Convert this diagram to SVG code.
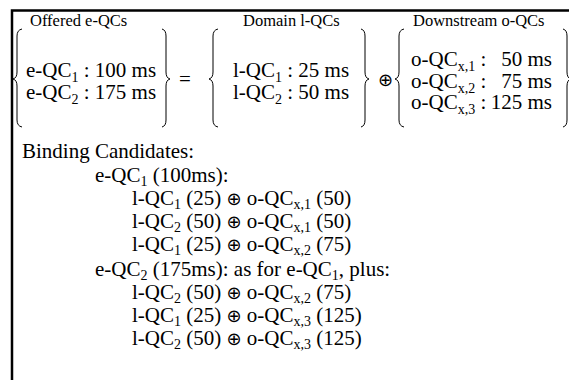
<svg xmlns="http://www.w3.org/2000/svg" width="569" height="380" viewBox="0 0 569 380">
<style>
text{font-family:"Liberation Serif","DejaVu Serif","DejaVu Sans",serif;fill:#000}
.big{font-size:21px}
.lab{font-size:16.5px}
.op{font-family:"DejaVu Sans",sans-serif;font-size:18px}
.br{fill:none;stroke:#000;stroke-width:1}
.frame{fill:none;stroke:#000;stroke-width:2.5}
</style>
<rect width="569" height="380" fill="#fff"/>
<path class="frame" d="M12,380 V10.5 H569"/>
<g id="offered">
<text class="lab" x="30" y="26">Offered e-QCs</text>
<path class="br" d="M22,29 Q17,30 17,36 V72 Q17,78 13,79 Q17,80 17,86 V120 Q17,126 22,127"/>
<text class="big" x="26" y="77">e-QC<tspan font-size="14" dy="5">1</tspan><tspan dy="-5"> : 100 ms</tspan></text>
<text class="big" x="26" y="98.5">e-QC<tspan font-size="14" dy="5">2</tspan><tspan dy="-5"> : 175 ms</tspan></text>
<path class="br" d="M162,29 Q166,30 166,36 V72 Q166,78 170,79 Q166,80 166,86 V120 Q166,126 162,127"/>
</g>
<text class="big" x="179" y="85.5">=</text>
<g id="domain">
<text class="lab" x="243" y="26">Domain l-QCs</text>
<path class="br" d="M218,29 Q213,30 213,36 V72 Q213,78 209,79 Q213,80 213,86 V120 Q213,126 218,127"/>
<text class="big" x="233" y="77">l-QC<tspan font-size="14" dy="5">1</tspan><tspan dy="-5"> : 25 ms</tspan></text>
<text class="big" x="233" y="98.5">l-QC<tspan font-size="14" dy="5">2</tspan><tspan dy="-5"> : 50 ms</tspan></text>
<path class="br" d="M361,29 Q365,30 365,36 V72 Q365,78 369,79 Q365,80 365,86 V120 Q365,126 361,127"/>
</g>
<text class="op" x="378" y="86" font-size="19">⊕</text>
<g id="downstream">
<text class="lab" x="413" y="26">Downstream o-QCs</text>
<path class="br" d="M404,29 Q399,30 399,36 V72 Q399,78 395,79 Q399,80 399,86 V120 Q399,126 404,127"/>
<text class="big" x="411" y="66">o-QC<tspan font-size="14" dy="5">x,1</tspan><tspan dy="-5"> :</tspan></text>
<text class="big" x="552" y="66" text-anchor="end">50 ms</text>
<text class="big" x="411" y="87.5">o-QC<tspan font-size="14" dy="5">x,2</tspan><tspan dy="-5"> :</tspan></text>
<text class="big" x="552" y="87.5" text-anchor="end">75 ms</text>
<text class="big" x="411" y="109">o-QC<tspan font-size="14" dy="5">x,3</tspan><tspan dy="-5"> :</tspan></text>
<text class="big" x="552" y="109" text-anchor="end">125 ms</text>
<path class="br" d="M563,29 Q567,30 567,36 V72 Q567,78 571,79 Q567,80 567,86 V120 Q567,126 563,127"/>
</g>
<g id="binding">
<text class="big" x="22" y="158">Binding Candidates:</text>
<text class="big" x="95" y="182">e-QC<tspan font-size="14" dy="4">1</tspan><tspan dy="-4"> (100ms):</tspan></text>
<text class="big" x="132" y="205">l-QC<tspan font-size="14" dy="4">1</tspan><tspan dy="-4"> (25) </tspan><tspan class="op">⊕</tspan> o-QC<tspan font-size="14" dy="4">x,1</tspan><tspan dy="-4"> (50)</tspan></text>
<text class="big" x="132" y="228">l-QC<tspan font-size="14" dy="4">2</tspan><tspan dy="-4"> (50) </tspan><tspan class="op">⊕</tspan> o-QC<tspan font-size="14" dy="4">x,1</tspan><tspan dy="-4"> (50)</tspan></text>
<text class="big" x="132" y="251">l-QC<tspan font-size="14" dy="4">1</tspan><tspan dy="-4"> (25) </tspan><tspan class="op">⊕</tspan> o-QC<tspan font-size="14" dy="4">x,2</tspan><tspan dy="-4"> (75)</tspan></text>
<text class="big" x="95" y="276">e-QC<tspan font-size="14" dy="4">2</tspan><tspan dy="-4"> (175ms): as for e-QC</tspan><tspan font-size="14" dy="4">1</tspan><tspan dy="-4">, plus:</tspan></text>
<text class="big" x="132" y="299">l-QC<tspan font-size="14" dy="4">2</tspan><tspan dy="-4"> (50) </tspan><tspan class="op">⊕</tspan> o-QC<tspan font-size="14" dy="4">x,2</tspan><tspan dy="-4"> (75)</tspan></text>
<text class="big" x="132" y="322">l-QC<tspan font-size="14" dy="4">1</tspan><tspan dy="-4"> (25) </tspan><tspan class="op">⊕</tspan> o-QC<tspan font-size="14" dy="4">x,3</tspan><tspan dy="-4"> (125)</tspan></text>
<text class="big" x="132" y="345">l-QC<tspan font-size="14" dy="4">2</tspan><tspan dy="-4"> (50) </tspan><tspan class="op">⊕</tspan> o-QC<tspan font-size="14" dy="4">x,3</tspan><tspan dy="-4"> (125)</tspan></text>
</g>
</svg>
